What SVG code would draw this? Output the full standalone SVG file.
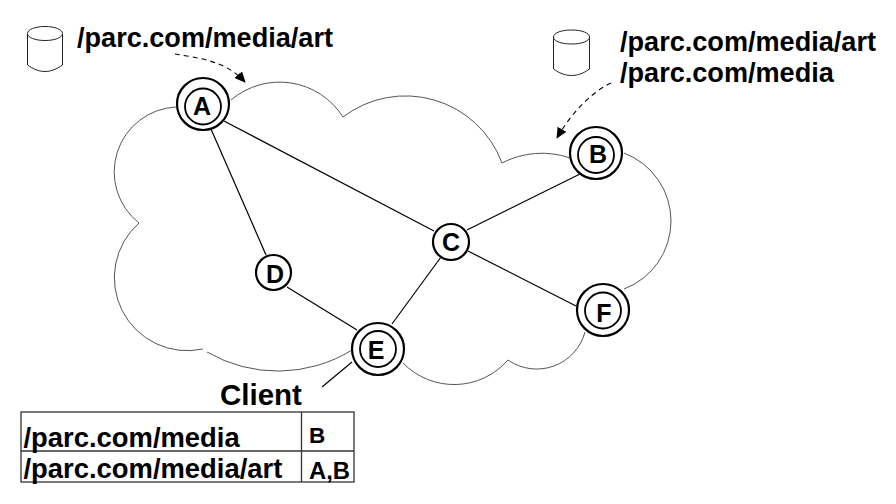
<svg xmlns="http://www.w3.org/2000/svg" width="896" height="504" viewBox="0 0 896 504">
<style>
text{font-family:"Liberation Sans",Arial,sans-serif;font-weight:700;fill:#000}
.big{font-size:27.1px}
.tbl{font-size:27.4px}
.client{font-size:29.500px}
.lab{font-size:25px;text-anchor:middle}
.o{fill:#fff;stroke:#000;stroke-width:2.2}
.i{fill:#fff;stroke:#000;stroke-width:1.8}
.cloud{fill:none;stroke:#555;stroke-width:1}
.edge{fill:none;stroke:#000;stroke-width:1.2}
.dash{fill:none;stroke:#000;stroke-width:1.1;stroke-dasharray:5 4}
.cyl{fill:#fff;stroke:#222;stroke-width:1}
.tb{fill:none;stroke:#333;stroke-width:1.3}
</style>
<defs>
<marker id="ah" markerWidth="12" markerHeight="10" refX="10" refY="5" orient="auto" markerUnits="userSpaceOnUse"><path d="M0 0L11 5L0 10Z" fill="#000"/></marker>
</defs>
<g id="cloud">
<path class="cloud" d="M176 107A65 65 0 0 0 139 223A73 73 0 0 0 203 349"/>
<path class="cloud" d="M207 352A141 141 0 0 0 352 350"/>
<path class="cloud" d="M403 363A71.400 71.400 0 0 0 508 360A50 50 0 0 0 585 332"/>
<path class="cloud" d="M624 289A72.700 72.700 0 0 0 624 153"/>
<path class="cloud" d="M570 158A86 86 0 0 0 502 163A103 103 0 0 0 343 117A75 75 0 0 0 231 100"/>
</g>
<g id="connectors">
<line class="edge" x1="224" y1="121" x2="434" y2="231"/>
<line class="edge" x1="211" y1="129" x2="266" y2="255"/>
<line class="edge" x1="580" y1="174" x2="467" y2="230"/>
<line class="edge" x1="468" y1="251" x2="576" y2="306"/>
<line class="edge" x1="441" y1="257" x2="392" y2="324"/>
<line class="edge" x1="287" y1="287" x2="357" y2="330"/>
<line class="edge" x1="352" y1="362" x2="322" y2="387"/>
<path class="dash" d="M175 54C197 58 225 60 245 82" marker-end="url(#ah)"/>
<path class="dash" d="M611 83C590 93 570 115 557 138" marker-end="url(#ah)"/>
</g>
<g id="node-A"><circle class="o" cx="203" cy="104" r="26"/><circle class="i" cx="203" cy="106.500" r="18"/><text class="lab" x="202" y="115">A</text></g>
<g id="node-B"><circle class="o" cx="596" cy="153" r="26"/><circle class="i" cx="596" cy="155" r="18"/><text class="lab" x="598" y="163">B</text></g>
<g id="node-C"><circle class="o" cx="451" cy="242" r="18"/><text class="lab" x="451" y="251">C</text></g>
<g id="node-D"><circle class="o" cx="273.500" cy="272.500" r="17.500"/><text class="lab" x="275" y="282.500">D</text></g>
<g id="node-E"><circle class="o" cx="378" cy="349" r="26"/><circle class="i" cx="378" cy="349" r="18"/><text class="lab" x="376" y="358.500">E</text></g>
<g id="node-F"><circle class="o" cx="603" cy="310" r="26"/><circle class="i" cx="603" cy="310.500" r="18"/><text class="lab" x="604" y="321.500">F</text></g>
<g id="store-A"><path class="cyl" d="M27.500 33.500C27.500 29.500 35 26.500 45 26.500C55 26.500 62.500 29.500 62.500 33.500L62.500 65C57 69 51 71.500 45 71.500C39 71.500 33 69 27.500 65Z"/><path class="cyl" d="M27.500 33.500C27.500 37.500 35 40.500 45 40.500C55 40.500 62.500 37.500 62.500 33.500"/></g>
<g id="store-B"><path class="cyl" d="M553.500 37C553.500 33 561 30 571.500 30C582 30 589.500 33 589.500 37L589.500 69C584 73 578 75.500 571.500 75.500C565 75.500 559 73 553.500 69Z"/><path class="cyl" d="M553.500 37C553.500 41 561 44 571.500 44C582 44 589.500 41 589.500 37"/></g>
<text class="big" x="77" y="47">/parc.com/media/art</text>
<text class="big" x="620" y="51">/parc.com/media/art</text>
<text class="big" x="620" y="82">/parc.com/media</text>
<text class="client" x="220" y="405">Client</text>
<g id="table">
<rect class="tb" x="21" y="412" width="333" height="70"/>
<line class="tb" x1="21" y1="451" x2="354" y2="451"/>
<line class="tb" x1="301.500" y1="412" x2="301.500" y2="482"/>
<text class="tbl" x="23.500" y="447">/parc.com/media</text>
<text class="tbl" x="23.500" y="478">/parc.com/media/art</text>
<text x="309" y="443" style="font-size:22.500px">B</text>
<text x="309" y="479" style="font-size:23.800px">A,B</text>
</g>
</svg>
